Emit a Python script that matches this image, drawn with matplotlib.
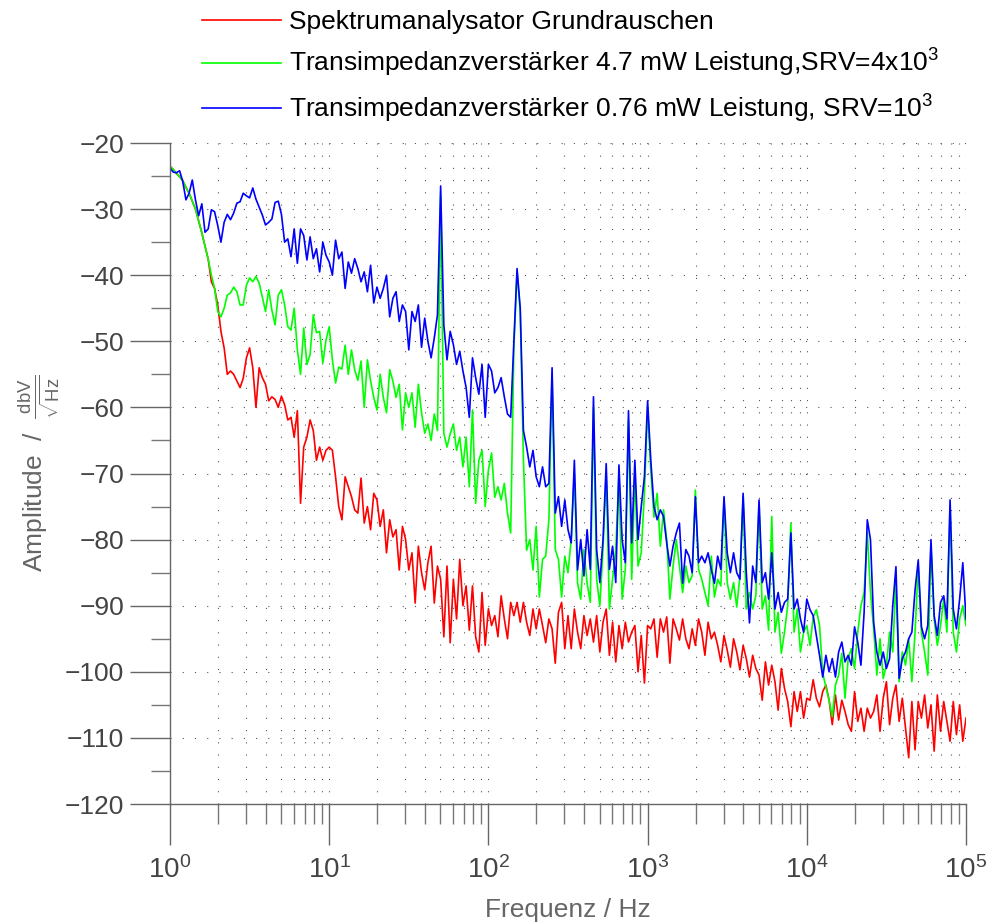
import numpy as np
import matplotlib
matplotlib.use('Agg')
import matplotlib.pyplot as plt
from matplotlib.ticker import LogLocator, MultipleLocator, NullFormatter

plt.rcParams['font.family'] = ['Liberation Sans', 'DejaVu Sans']
plt.rcParams['mathtext.fontset'] = 'custom'
plt.rcParams['mathtext.rm'] = 'Liberation Sans'
plt.rcParams['mathtext.it'] = 'Liberation Sans:italic'
plt.rcParams['mathtext.bf'] = 'Liberation Sans:bold'

# analyzer sweep points: 251 points, log spaced from 1 Hz to 100 kHz
freq_hz = np.logspace(0, 5, 251)

# Spektrumanalysator Grundrauschen (dB)
red_db = [
    -23.5, -24.0, -24.6, -25.1, -25.7, -26.7, -27.6, -28.8, -30.0, -31.8,
    -33.6, -35.6, -37.6, -41.0, -42.0, -44.5, -48.5, -51.0, -55.0, -54.5,
    -55.0, -56.0, -57.0, -55.6, -52.5, -51.0, -54.0, -60.0, -54.0, -55.5,
    -56.5, -59.0, -58.4, -58.8, -60.0, -58.3, -59.6, -61.9, -61.5, -64.5,
    -60.5, -74.5, -66.0, -64.5, -61.9, -63.5, -68.0, -66.0, -68.0, -66.5,
    -66.0, -66.5, -70.5, -75.0, -77.0, -70.5, -72.0, -73.5, -75.5, -76.0,
    -70.7, -77.5, -75.0, -78.5, -73.0, -74.0, -78.0, -75.5, -82.0, -77.0,
    -79.6, -78.5, -84.6, -78.0, -80.0, -84.6, -82.0, -89.6, -81.0, -85.0,
    -87.6, -83.5, -81.0, -89.6, -84.0, -86.0, -94.7, -84.0, -95.6, -86.0,
    -92.0, -83.0, -90.0, -87.0, -93.7, -87.0, -94.7, -97.0, -88.0, -96.0,
    -90.5, -93.0, -91.5, -94.7, -88.5, -92.0, -95.0, -89.5, -91.5, -89.5,
    -92.5, -89.5, -92.5, -94.5, -90.5, -93.5, -90.5, -93.0, -95.6, -92.0,
    -93.5, -98.7, -91.0, -89.5, -96.5, -91.5, -96.5, -90.5, -94.0, -96.5,
    -91.5, -94.5, -92.0, -95.5, -91.5, -97.0, -92.5, -90.5, -97.5, -92.5,
    -98.5, -93.0, -96.5, -92.5, -95.5, -94.0, -93.0, -100.0, -94.5, -101.7,
    -93.0, -93.5, -92.0, -97.8, -92.0, -94.0, -91.7, -98.7, -92.0, -93.5,
    -95.2, -92.0, -95.0, -96.5, -93.5, -96.0, -92.0, -94.0, -97.5, -92.5,
    -95.0, -94.0, -96.0, -98.5, -94.5, -96.7, -99.3, -95.0, -97.0, -99.7,
    -96.0, -98.0, -100.8, -97.5, -99.5, -100.5, -104.3, -98.5, -102.0, -99.0,
    -101.5, -105.8, -99.5, -102.5, -104.5, -108.3, -103.0, -106.0, -103.0, -107.0,
    -104.0, -104.3, -101.2, -104.0, -105.3, -103.0, -102.0, -104.3, -108.0, -103.5,
    -107.3, -104.3, -106.0, -108.0, -109.0, -103.0, -107.5, -105.5, -109.0, -105.5,
    -107.0, -106.0, -103.5, -109.0, -104.0, -101.5, -108.0, -104.0, -102.0, -107.5,
    -104.0, -108.5, -113.0, -104.5, -111.8, -104.5, -107.0, -103.5, -108.5, -105.0,
    -112.0, -103.5, -109.0, -104.5, -107.5, -110.5, -104.5, -109.5, -105.0, -110.5,
    -107.0,
]

# Transimpedanzverstaerker 4.7 mW
green_db = [
    -23.5, -24.0, -24.6, -25.1, -25.7, -26.7, -27.6, -28.8, -30.0, -31.8,
    -33.6, -35.6, -37.6, -40.0, -42.0, -45.5, -46.3, -45.0, -43.0, -42.7,
    -41.8, -42.5, -44.5, -44.5, -41.5, -40.4, -41.0, -40.2, -41.2, -43.3,
    -45.5, -42.2, -45.3, -47.5, -43.0, -42.2, -44.5, -47.8, -48.3, -45.0,
    -51.3, -55.0, -48.0, -53.5, -52.0, -46.0, -48.7, -48.5, -53.3, -49.8,
    -47.8, -52.8, -56.3, -53.9, -54.2, -50.6, -55.0, -51.3, -54.3, -55.9,
    -53.0, -60.0, -52.8, -56.0, -58.5, -60.4, -55.0, -58.5, -60.8, -54.3,
    -56.0, -58.5, -56.5, -63.4, -57.8, -60.0, -57.8, -63.0, -56.5, -60.8,
    -63.9, -62.5, -65.0, -61.0, -63.5, -28.0, -63.9, -66.0, -64.0, -62.5,
    -66.5, -64.5, -69.0, -64.5, -72.0, -60.4, -74.5, -68.0, -66.5, -75.0,
    -69.5, -66.9, -73.6, -72.0, -74.0, -71.5, -76.0, -79.0, -51.0, -39.5,
    -45.5, -68.0, -81.6, -80.0, -84.6, -78.0, -88.7, -83.0, -82.5, -77.0,
    -55.0, -81.5, -83.0, -88.7, -82.5, -85.0, -80.0, -70.0, -86.6, -89.0,
    -81.5, -86.6, -89.5, -60.0, -86.0, -90.0, -81.5, -70.0, -90.5, -86.0,
    -81.5, -70.0, -89.0, -84.5, -62.0, -86.0, -70.0, -84.0, -82.0, -73.0,
    -60.0, -69.5, -76.6, -73.0, -81.0, -75.5, -80.0, -89.0, -84.0, -80.0,
    -84.0, -88.0, -84.0, -86.5, -85.5, -72.5, -84.5, -86.0, -88.0, -90.0,
    -82.5, -88.7, -86.0, -87.0, -74.0, -86.5, -89.0, -86.5, -90.2, -85.5,
    -73.5, -90.5, -88.0, -90.5, -88.5, -74.5, -90.5, -88.5, -93.7, -76.5,
    -94.0, -91.0, -97.2, -94.0, -90.0, -77.5, -94.0, -90.5, -97.0, -94.0,
    -93.0, -96.0, -91.7, -90.6, -93.0, -100.2, -102.3, -104.3, -106.8, -102.0,
    -100.5, -97.2, -104.0, -98.0, -96.5, -99.5, -94.0, -90.0, -88.0, -79.0,
    -88.0, -93.5, -100.5, -95.0, -101.0, -99.0, -94.0, -97.0, -86.0, -101.5,
    -97.0, -99.0, -95.0, -101.5, -94.0, -84.0, -94.0, -97.0, -100.5, -81.0,
    -92.0, -96.0, -93.0, -89.0, -94.0, -75.0, -94.0, -97.0, -92.0, -90.0,
    -93.0,
]

# Transimpedanzverstaerker 0.76 mW
blue_db = [
    -23.8, -24.4, -24.5, -24.2, -25.8, -28.6, -27.6, -25.6, -28.6, -31.0,
    -29.2, -33.5, -33.0, -30.1, -30.4, -32.5, -35.0, -32.0, -30.8, -31.6,
    -30.6, -29.1, -28.9, -27.6, -28.0, -28.3, -26.8, -28.5, -29.7, -30.9,
    -32.4, -32.0, -31.5, -29.0, -28.8, -30.8, -35.0, -34.5, -37.2, -33.0,
    -38.2, -33.0, -34.0, -37.7, -34.2, -37.5, -36.0, -39.5, -35.0, -37.0,
    -38.0, -40.0, -34.7, -37.5, -36.5, -42.0, -38.0, -39.7, -37.5, -39.0,
    -41.0, -39.5, -42.5, -38.5, -44.2, -41.8, -43.5, -42.0, -40.0, -46.3,
    -43.5, -42.5, -47.0, -44.5, -45.5, -51.3, -45.5, -47.0, -44.5, -50.9,
    -46.5, -50.0, -52.5, -49.5, -46.0, -26.5, -47.5, -52.8, -48.5, -50.5,
    -53.5, -51.5, -54.5, -57.0, -61.5, -52.5, -55.5, -58.0, -53.5, -61.5,
    -53.5, -54.5, -57.8, -57.0, -55.5, -58.4, -61.0, -61.5, -50.0, -39.0,
    -45.0, -63.5, -66.0, -69.0, -66.5, -70.5, -72.0, -69.0, -72.0, -71.5,
    -54.0, -76.0, -73.5, -78.0, -74.0, -78.5, -80.5, -68.0, -84.6, -80.0,
    -85.5, -78.5, -84.5, -58.4, -81.5, -86.5, -80.0, -68.5, -84.5, -81.0,
    -86.5, -68.7, -80.0, -83.5, -60.5, -80.5, -68.0, -80.0, -75.0, -70.5,
    -59.0, -68.0, -75.0, -77.0, -75.5, -76.5, -80.5, -84.0, -81.0, -79.0,
    -77.5, -86.6, -81.5, -82.5, -85.0, -73.5, -83.5, -82.5, -83.5, -82.0,
    -84.5, -86.6, -82.5, -84.5, -73.5, -82.0, -85.0, -82.0, -85.0, -86.0,
    -73.0, -85.0, -92.6, -84.0, -86.5, -74.0, -86.5, -85.0, -89.0, -82.0,
    -90.5, -88.0, -91.0, -89.5, -89.0, -79.0, -90.5, -89.0, -92.0, -94.0,
    -89.0, -90.6, -91.5, -94.5, -97.5, -100.8, -97.5, -100.0, -98.0, -100.8,
    -97.0, -95.5, -98.5, -97.5, -99.0, -93.2, -95.5, -99.0, -91.0, -77.0,
    -80.0, -92.5, -97.0, -99.0, -97.0, -99.5, -98.0, -90.0, -84.1, -101.0,
    -98.0, -97.0, -95.0, -94.0, -87.6, -83.1, -93.2, -95.0, -93.0, -80.0,
    -91.5, -94.5, -89.5, -88.5, -92.0, -74.0, -90.5, -93.5, -89.0, -83.5,
    -92.0,
]

labels = [
    'Spektrumanalysator Grundrauschen',
    r'Transimpedanzverstärker 4.7 mW Leistung,SRV=4x$10^3$',
    r'Transimpedanzverstärker 0.76 mW Leistung, SRV=$10^3$',
]
colors = ['#ff0000', '#00ff00', '#0000ff']

fig = plt.figure(figsize=(9.87, 9.23), dpi=100)
ax = fig.add_axes([170 / 987, 119 / 923, 796 / 987, 661 / 923])

for vals, col, lab in zip([red_db, green_db, blue_db], colors, labels):
    ax.plot(freq_hz, vals, color=col, lw=1.2, label=lab)

ax.set_xscale('log')
ax.set_xlim(1, 1e5)
ax.set_ylim(-120, -20)
ax.set_yticks(np.arange(-120, -19, 10))
ax.yaxis.set_minor_locator(MultipleLocator(5))
ax.xaxis.set_major_locator(LogLocator(base=10, numticks=10))
ax.xaxis.set_minor_locator(LogLocator(base=10, subs=np.arange(2, 10), numticks=20))
ax.xaxis.set_minor_formatter(NullFormatter())

# dotted grid: every x decade/subdecade, y only at major ticks
dots = (0, (1, 10))
ax.xaxis.grid(True, which='both', linestyle=dots, color='#555555', lw=0.8)
ax.yaxis.grid(True, which='major', linestyle=dots, color='#555555', lw=0.8)
ax.set_axisbelow(True)

for s in ['top', 'right']:
    ax.spines[s].set_visible(False)
for s in ['left', 'bottom']:
    ax.spines[s].set_color('#666666')
    ax.spines[s].set_linewidth(1.0)

ax.tick_params(axis='y', which='major', direction='out', length=29, width=1,
               color='#666666', pad=4, labelsize=19, labelcolor='#444444')
ax.tick_params(axis='y', which='minor', direction='out', length=14, width=1,
               color='#777777')
ax.tick_params(axis='x', which='major', direction='out', length=29.5, width=1,
               color='#666666', pad=8, labelsize=20, labelcolor='#444444')
ax.tick_params(axis='x', which='minor', direction='out', length=14.5, width=1,
               color='#777777')

ax.set_xlabel('Frequenz / Hz', fontsize=19, color='#666666', labelpad=10)
ax.set_ylabel(r'Amplitude  /  $\frac{\mathrm{dbV}}{\sqrt{\mathrm{Hz}}}$',
              fontsize=19, color='#666666', labelpad=2)

fig.legend(loc='upper left', bbox_to_anchor=(202 / 987, 1 - 10 / 923),
           frameon=False, fontsize=19, handlelength=3.0, handletextpad=0.3,
           labelspacing=0.5, borderpad=0, borderaxespad=0)

fig.savefig('out.png', dpi=100)
